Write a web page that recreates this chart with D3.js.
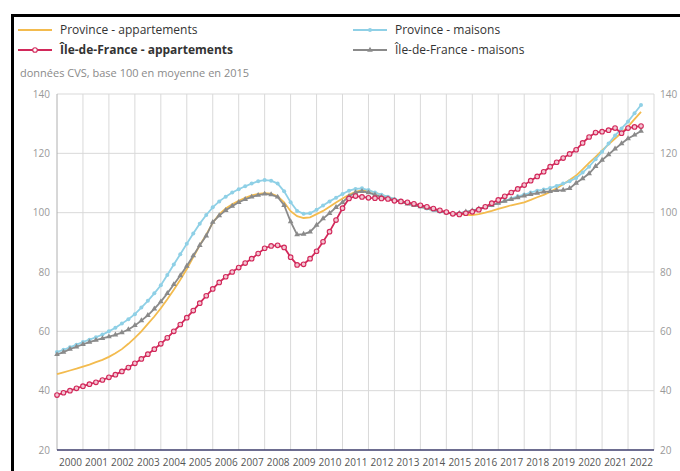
<!DOCTYPE html>
<html>
<head>
<meta charset="utf-8">
<script src="https://cdn.jsdelivr.net/npm/d3@7"></script>
<style>
	body { margin: 0; background: #fff; }
	svg { display: block; font-family: "Open Sans", sans-serif; }
</style>
</head>
<body>
<svg id="chart" width="680" height="471"></svg>
<script>

// quarterly values, 2000 Q1 .. 2022 Q3
const provAppart = [
	45.6, 46.2, 46.8, 47.4,  48.1, 48.8, 49.6, 50.4,  51.4, 52.6, 54.0, 55.8,
	57.8, 60.0, 62.5, 65.0,  67.8, 70.8, 74.0, 77.4,  81.0, 85.0, 89.0, 92.6,
	96.6, 99.4, 101.4, 102.8,  104.0, 105.0, 105.8, 106.3,  106.6, 106.4, 105.5, 103.5,
	100.5, 98.8, 98.2, 98.4,  99.5, 100.6, 102.0, 103.4,  104.8, 106.0, 107.0, 107.6,
	107.4, 106.8, 106.0, 105.3,  104.6, 104.0, 103.3, 102.6,  102.0, 101.4, 100.8, 100.4,
	100.1, 99.8, 99.6, 99.3,  99.2, 99.5, 100.0, 100.6,  101.3, 101.9, 102.5, 103.0,
	103.5, 104.3, 105.2, 106.0,  107.0, 108.2, 109.6, 111.0,  112.5, 114.6, 116.8, 118.8,
	121.0, 123.0, 125.0, 127.0,  129.0, 131.5, 134.0
];
const provMaisons = [
	53.0, 53.8, 54.6, 55.5,  56.4, 57.2, 58.0, 58.9,  60.0, 61.2, 62.6, 64.1,
	65.8, 68.0, 70.3, 72.8,  75.5, 79.0, 82.5, 86.0,  89.5, 93.0, 96.3, 99.2,
	101.8, 103.8, 105.4, 106.8,  107.9, 108.9, 109.8, 110.6,  111.0, 110.8, 109.8, 107.2,
	103.5, 100.6, 99.6, 99.8,  101.0, 102.4, 103.8, 105.0,  106.3, 107.4, 108.0, 108.2,
	107.6, 106.8, 106.0, 105.4,  104.6, 104.0, 103.3, 102.6,  102.0, 101.4, 100.8, 100.3,
	100.0, 99.7, 99.8, 100.2,  100.6, 101.1, 101.8, 102.5,  103.2, 104.0, 104.8, 105.5,
	106.1, 106.8, 107.4, 107.8,  108.3, 109.0, 109.8, 110.6,  111.7, 113.5, 115.5, 118.0,
	120.5, 123.3, 126.0, 128.4,  130.7, 133.5, 136.3
];
const idfAppart = [
	38.5, 39.3, 40.0, 40.8,  41.5, 42.2, 42.8, 43.6,  44.5, 45.4, 46.5, 47.8,
	49.2, 50.7, 52.3, 54.0,  55.8, 57.8, 60.0, 62.3,  64.6, 67.0, 69.5, 72.0,
	74.3, 76.5, 78.4, 80.0,  81.5, 83.0, 84.5, 86.2,  88.0, 88.8, 89.0, 88.3,
	85.0, 82.4, 82.6, 84.5,  87.0, 90.2, 93.6, 97.5,  101.5, 104.8, 105.6, 105.3,
	105.0, 104.9, 104.8, 104.6,  104.0, 103.8, 103.5, 103.0,  102.5, 102.0, 101.4, 100.8,
	100.2, 99.6, 99.4, 99.8,  100.3, 101.0, 102.0, 103.2,  104.3, 105.5, 106.8, 108.0,
	109.3, 110.8, 112.2, 113.8,  115.5, 117.0, 118.4, 119.8,  121.2, 123.5, 125.5, 127.0,
	127.3, 127.8, 128.5, 126.8,  128.5, 128.9, 129.2
];
const idfMaisons = [
	52.2, 53.0, 54.0, 54.8,  55.6, 56.4, 57.0, 57.6,  58.2, 58.8, 59.6, 60.6,
	62.0, 63.6, 65.4, 67.6,  70.0, 72.8, 75.8, 78.8,  82.0, 85.5, 89.0, 92.2,
	96.8, 99.0, 100.8, 102.2,  103.5, 104.5, 105.3, 105.9,  106.3, 106.1, 105.3, 102.5,
	97.0, 92.6, 92.8, 93.5,  95.8, 98.0, 99.8, 101.8,  103.5, 105.5, 106.8, 107.2,
	106.8, 106.0, 105.3, 104.8,  104.3, 103.6, 103.0, 102.5,  102.0, 101.5, 101.0, 100.4,
	100.0, 99.6, 99.8, 100.3,  100.7, 101.3, 101.9, 102.5,  103.2, 103.9, 104.5, 105.1,
	105.7, 106.2, 106.6, 107.0,  107.2, 107.5, 107.6, 108.2,  110.0, 111.5, 113.2, 115.6,
	117.7, 119.6, 121.5, 123.3,  125.0, 126.2, 127.5
];

const years = d3.range(2000, 2023);
const yTicks = [20, 40, 60, 80, 100, 120, 140];
const subtitle = "données CVS, base 100 en moyenne en 2015";

const series = [
	{ name: "Province - appartements", values: provAppart, color: "#f3bb4e", marker: null, bold: false },
	{ name: "Province - maisons", values: provMaisons, color: "#8fd0e6", marker: "circle", bold: false },
	{ name: "Île-de-France - maisons", values: idfMaisons, color: "#8a8a8a", marker: "triangle", bold: false },
	{ name: "Île-de-France - appartements", values: idfAppart, color: "#d2285a", marker: "ring", bold: true }
];

const svg = d3.select('#chart');
const plotLeft = 57, plotRight = 654, plotTop = 94, plotBottom = 450;

// frame
svg.append('rect').attr('x', 11).attr('y', 14).attr('width', 680).attr('height', 3).attr('fill', '#000');
svg.append('rect').attr('x', 11).attr('y', 14).attr('width', 3).attr('height', 471).attr('fill', '#000');

const x = d3.scaleLinear().domain([2000, 2023]).range([plotLeft, plotRight]);
const y = d3.scaleLinear().domain([20, 140]).range([plotBottom, plotTop]);

// grid
const grid = svg.append('g');
grid.selectAll('.hgrid')
	.data(yTicks.filter(d => d > 20))
	.enter().append('line')
	.attr('x1', plotLeft).attr('x2', plotRight)
	.attr('y1', d => y(d)).attr('y2', d => y(d))
	.attr('stroke', '#d9d9d9').attr('stroke-width', 1);
grid.selectAll('.vgrid')
	.data(years.concat([2023]))
	.enter().append('line')
	.attr('x1', d => x(d)).attr('x2', d => x(d))
	.attr('y1', plotTop).attr('y2', plotBottom)
	.attr('stroke', d => d === 2000 ? '#b0b0b0' : '#d9d9d9').attr('stroke-width', 1);

// bottom axis line
svg.append('line')
	.attr('x1', plotLeft).attr('x2', plotRight)
	.attr('y1', plotBottom).attr('y2', plotBottom)
	.attr('stroke', '#3d3d6b').attr('stroke-width', 1.5);

// axes labels
const xAxis = d3.axisBottom(x)
	.tickValues(years.map(d => d + 0.5))
	.tickSize(0).tickPadding(9)
	.tickFormat(d => Math.floor(d));
svg.append('g')
	.attr('transform', `translate(0,${plotBottom})`)
	.call(xAxis)
	.call(g => g.select('.domain').remove())
	.call(g => g.selectAll('text').attr('fill', '#555').style('font-size', '10px').style('font-family', '"Open Sans", sans-serif'));

const yLeft = d3.axisLeft(y).tickValues(yTicks).tickSize(0).tickPadding(7);
svg.append('g')
	.attr('transform', `translate(${plotLeft},0)`)
	.call(yLeft)
	.call(g => g.select('.domain').remove())
	.call(g => g.selectAll('text').attr('fill', '#999').style('font-size', '10px').style('font-family', '"Open Sans", sans-serif'));

const yRight = d3.axisRight(y).tickValues(yTicks).tickSize(0).tickPadding(6);
svg.append('g')
	.attr('transform', `translate(${plotRight},0)`)
	.call(yRight)
	.call(g => g.select('.domain').remove())
	.call(g => g.selectAll('text').attr('fill', '#999').style('font-size', '10px').style('font-family', '"Open Sans", sans-serif'));

// subtitle
svg.append('text')
	.attr('x', 20).attr('y', 77)
	.attr('fill', '#8a8a8a')
	.style('font-size', '11px')
	.text(subtitle);

// lines
const line = d3.line()
	.x((d, i) => x(2000 + i / 4))
	.y(d => y(d));

function drawMarkers(g, s, pts) {
	if (s.marker === 'circle') {
		g.selectAll('circle').data(pts).enter().append('circle')
			.attr('cx', (d, i) => x(2000 + i / 4)).attr('cy', d => y(d))
			.attr('r', 2).attr('fill', s.color);
	} else if (s.marker === 'ring') {
		g.selectAll('circle').data(pts).enter().append('circle')
			.attr('cx', (d, i) => x(2000 + i / 4)).attr('cy', d => y(d))
			.attr('r', 2.3).attr('fill', '#f3c6d3').attr('stroke', s.color).attr('stroke-width', 1.1);
	} else if (s.marker === 'triangle') {
		const tri = d3.symbol().type(d3.symbolTriangle).size(14);
		g.selectAll('path.m').data(pts).enter().append('path')
			.attr('class', 'm')
			.attr('d', tri)
			.attr('transform', (d, i) => `translate(${x(2000 + i / 4)},${y(d)})`)
			.attr('fill', s.color);
	}
}

series.forEach(s => {
	const g = svg.append('g');
	g.append('path')
		.datum(s.values)
		.attr('d', line)
		.attr('fill', 'none')
		.attr('stroke', s.color)
		.attr('stroke-width', 1.8);
	drawMarkers(g, s, s.values);
});

// legend
const legendItems = [
	{ s: series[0], lx: 18, ly: 30 },
	{ s: series[3], lx: 18, ly: 50 },
	{ s: series[1], lx: 353, ly: 30 },
	{ s: series[2], lx: 353, ly: 50 }
];
legendItems.forEach(it => {
	const g = svg.append('g');
	g.append('line')
		.attr('x1', it.lx).attr('x2', it.lx + 34)
		.attr('y1', it.ly).attr('y2', it.ly)
		.attr('stroke', it.s.color).attr('stroke-width', 1.8);
	const mx = it.lx + 17;
	if (it.s.marker === 'circle') {
		g.append('circle').attr('cx', mx).attr('cy', it.ly).attr('r', 2).attr('fill', it.s.color);
	} else if (it.s.marker === 'ring') {
		g.append('circle').attr('cx', mx).attr('cy', it.ly).attr('r', 2.3)
			.attr('fill', '#fff').attr('stroke', it.s.color).attr('stroke-width', 1.1);
	} else if (it.s.marker === 'triangle') {
		g.append('path').attr('d', d3.symbol().type(d3.symbolTriangle).size(14))
			.attr('transform', `translate(${mx},${it.ly})`).attr('fill', it.s.color);
	}
	g.append('text')
		.attr('x', it.lx + 42).attr('y', it.ly + 4)
		.attr('fill', '#333')
		.style('font-size', '12px')
		.style('font-weight', it.s.bold ? 'bold' : 'normal')
		.text(it.s.name);
});

</script>
</body>
</html>
